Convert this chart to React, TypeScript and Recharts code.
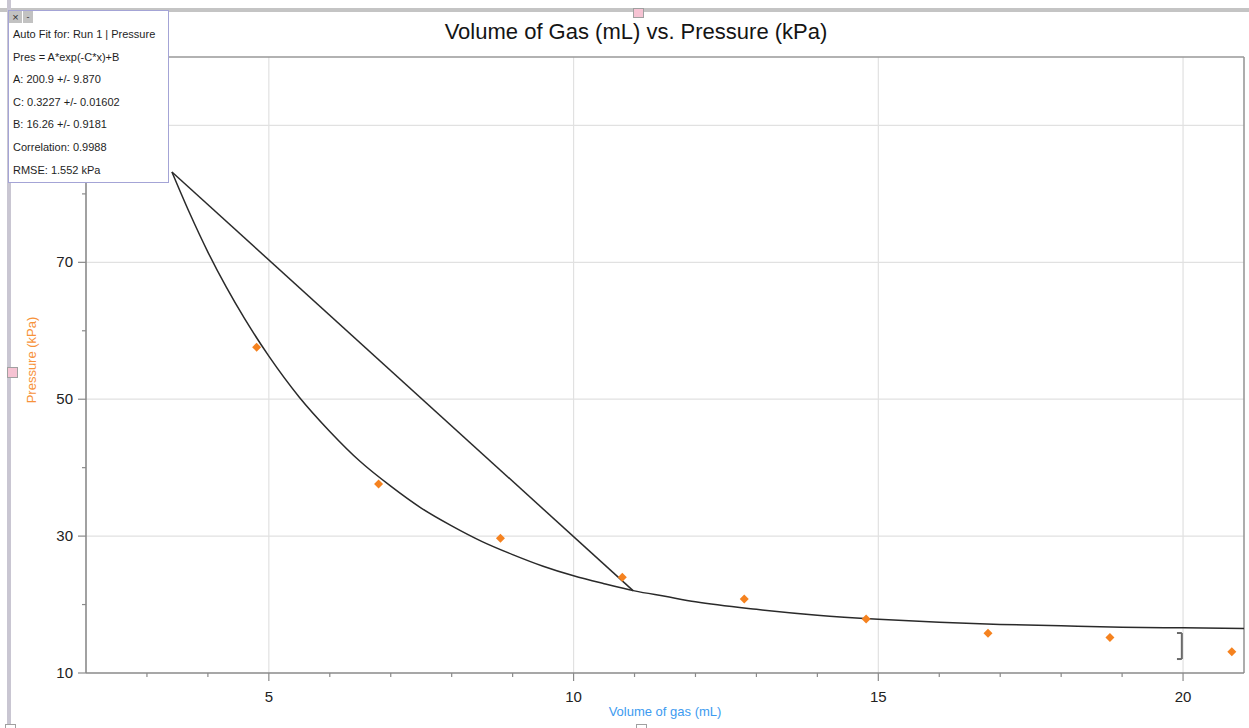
import React from 'react';
import { ComposedChart, Line, Scatter, XAxis, YAxis, ReferenceLine } from 'recharts';

// Measured data (Volume of gas mL, Pressure kPa)
const volumes = [4.8, 6.8, 8.8, 10.8, 12.8, 14.8, 16.8, 18.8, 20.8];
const pressures = [57.6, 37.6, 29.7, 24.0, 20.8, 17.9, 15.8, 15.2, 13.1];

// Auto-fit curve
const fitX = [3.41, 3.7, 4, 4.3, 4.6, 5, 5.5, 6, 6.5, 7, 7.5, 8, 8.5, 9, 9.5, 10, 10.5, 11, 11.5, 12, 13, 14, 15, 16, 17, 18, 19, 20, 21];
const fitY = [83.2, 77.2, 71.5, 66.4, 61.8, 56.3, 50.3, 45.3, 40.9, 37.3, 34.1, 31.5, 29.2, 27.3, 25.6, 24.2, 23.05, 22.0, 21.2, 20.4, 19.3, 18.45, 17.85, 17.4, 17.1, 16.9, 16.7, 16.6, 16.5];

// Straight secant line
const secantX = [3.41, 10.98];
const secantY = [83.2, 22.0];

// Bracket marker near x = 20
const bracketX = [19.9, 19.98];
const bracketY = [15.84, 12.04];

const xTicks = [3, 4, 5, 6, 7, 8, 9, 10, 11, 12, 13, 14, 15, 16, 17, 18, 19, 20];
const yTicks = [10, 20, 30, 40, 50, 60, 70, 80, 90];
const yLabelled = [10, 30, 50, 70];
const xGrid = [5, 10, 15, 20];
const yGrid = [30, 50, 70, 90];

const fitLines = [
  'Auto Fit for: Run 1 | Pressure',
  'Pres = A*exp(-C*x)+B',
  'A: 200.9 +/- 9.870',
  'C: 0.3227 +/- 0.01602',
  'B: 16.26 +/- 0.9181',
  'Correlation: 0.9988',
  'RMSE: 1.552 kPa',
];

const points = volumes.map((x, i) => ({ x, y: pressures[i] }));
const fitData = fitX.map((x, i) => ({ x, y: fitY[i] }));
const secantData = secantX.map((x, i) => ({ x, y: secantY[i] }));

const FONT = '"Liberation Sans", Arial, Helvetica, sans-serif';
const AXIS = '#8a8a8a';

const XTick = (props: any) => {
  const { x, y, payload } = props;
  const v = payload.value;
  const major = v % 5 === 0;
  return (
    <g>
      <line x1={x} y1={y} x2={x} y2={y + (major ? 8 : 4)} stroke={AXIS} strokeWidth={1.2} />
      {major && (
        <text x={x} y={y + 29} textAnchor="middle" fontSize={15} fill="#222" fontFamily={FONT}>
          {v}
        </text>
      )}
    </g>
  );
};

const YTick = (props: any) => {
  const { x, y, payload } = props;
  const v = payload.value;
  const major = (v - 10) % 20 === 0;
  return (
    <g>
      <line x1={x} y1={y} x2={x - (major ? 8 : 4)} y2={y} stroke={AXIS} strokeWidth={1.2} />
      {yLabelled.includes(v) && (
        <text x={x - 13} y={y + 5} textAnchor="end" fontSize={15} fill="#222" fontFamily={FONT}>
          {v}
        </text>
      )}
    </g>
  );
};

const Diamond = (props: any) => {
  const { cx, cy } = props;
  const r = 4.5;
  return (
    <polygon
      points={`${cx},${cy - r} ${cx + r},${cy} ${cx},${cy + r} ${cx - r},${cy}`}
      fill="#f5821f"
    />
  );
};

export default function App() {
  return (
    <div style={{ position: 'absolute', left: 0, top: 0, width: 1249, height: 728, background: '#fff', fontFamily: FONT, overflow: 'hidden' }}>
      <ComposedChart width={1249} height={728} margin={{ top: 57, right: 5, bottom: 0, left: 0 }}>
        <XAxis
          dataKey="x"
          type="number"
          domain={[2, 21]}
          ticks={xTicks}
          interval={0}
          height={55}
          tickSize={0}
          tickMargin={0}
          tick={<XTick />}
          axisLine={{ stroke: AXIS, strokeWidth: 1.6 }}
          allowDataOverflow
          label={{ value: 'Volume of gas (mL)', position: 'insideBottom', offset: 12, fill: '#3d9bf0', fontSize: 13, fontFamily: FONT }}
        />
        <YAxis
          dataKey="y"
          type="number"
          domain={[10, 100]}
          ticks={yTicks}
          interval={0}
          width={86}
          tickSize={0}
          tickMargin={0}
          tick={<YTick />}
          axisLine={{ stroke: AXIS, strokeWidth: 1.6 }}
          allowDataOverflow
          label={{ value: 'Pressure (kPa)', angle: -90, position: 'insideLeft', offset: 31, dy: -5, fill: '#f7923a', fontSize: 13, fontFamily: FONT, style: { textAnchor: 'middle' } }}
        />
        {xGrid.map((v) => (
          <ReferenceLine key={'gx' + v} x={v} stroke="#e1e1e1" strokeWidth={1.2} />
        ))}
        {yGrid.map((v) => (
          <ReferenceLine key={'gy' + v} y={v} stroke="#e1e1e1" strokeWidth={1.2} />
        ))}
        <ReferenceLine y={100} stroke="#999" strokeWidth={1.6} />
        <ReferenceLine x={21} stroke="#999" strokeWidth={1.6} />
        <Line data={fitData} dataKey="y" type="monotone" stroke="#2a2a2a" strokeWidth={1.5} dot={false} isAnimationActive={false} />
        <Line data={secantData} dataKey="y" type="linear" stroke="#2a2a2a" strokeWidth={1.5} dot={false} isAnimationActive={false} />
        <Scatter data={points} dataKey="y" shape={<Diamond />} isAnimationActive={false} />
        <ReferenceLine segment={[{ x: bracketX[1], y: bracketY[0] }, { x: bracketX[1], y: bracketY[1] }]} stroke="#6a6a6a" strokeWidth={2} />
        <ReferenceLine segment={[{ x: bracketX[0], y: bracketY[0] }, { x: bracketX[1], y: bracketY[0] }]} stroke="#6a6a6a" strokeWidth={2} />
        <ReferenceLine segment={[{ x: bracketX[0], y: bracketY[1] }, { x: bracketX[1], y: bracketY[1] }]} stroke="#6a6a6a" strokeWidth={2} />
      </ComposedChart>

      {/* Title */}
      <div style={{ position: 'absolute', left: 0, width: 1272, top: 19, textAlign: 'center', fontSize: 22, color: '#141414', fontFamily: FONT }}>
        Volume of Gas (mL) vs. Pressure (kPa)
      </div>

      {/* window frame bars */}
      <div style={{ position: 'absolute', left: 0, top: 8, width: 1249, height: 4, background: '#c4c4c4' }} />
      <div style={{ position: 'absolute', left: 7, top: 0, width: 4, height: 728, background: '#c9c6d2' }} />

      {/* handles */}
      <div style={{ position: 'absolute', left: 633, top: 8, width: 9, height: 8, background: '#f6c3d3', border: '1px solid #a0a0a0' }} />
      <div style={{ position: 'absolute', left: 7, top: 367, width: 9, height: 9, background: '#f6c3d3', border: '1px solid #a0a0a0' }} />
      <div style={{ position: 'absolute', left: 636, top: 724, width: 9, height: 6, background: '#fff', border: '1px solid #a0a0a0' }} />
      <div style={{ position: 'absolute', left: 5, top: 724, width: 9, height: 6, background: '#fff', border: '1px solid #a0a0a0' }} />

      {/* fit info box */}
      <div style={{ position: 'absolute', left: 8, top: 10, width: 159, height: 171, background: '#fff', border: '1.5px solid #a4a4d6', boxSizing: 'content-box' }}>
        <div style={{ position: 'absolute', left: 0, top: 0, width: 13, height: 12, background: '#c2c2c2', color: '#333', fontSize: 11, lineHeight: '12px', textAlign: 'center' }}>×</div>
        <div style={{ position: 'absolute', left: 14, top: 0, width: 10, height: 12, background: '#c2c2c2', color: '#333', fontSize: 9, lineHeight: '12px', textAlign: 'center' }}>-</div>
        {fitLines.map((t, i) => (
          <div key={t} style={{ position: 'absolute', left: 4, top: 16 + i * 22.6, fontSize: 11, color: '#1e1e1e', whiteSpace: 'nowrap', lineHeight: '14px' }}>
            {t}
          </div>
        ))}
      </div>
    </div>
  );
}
